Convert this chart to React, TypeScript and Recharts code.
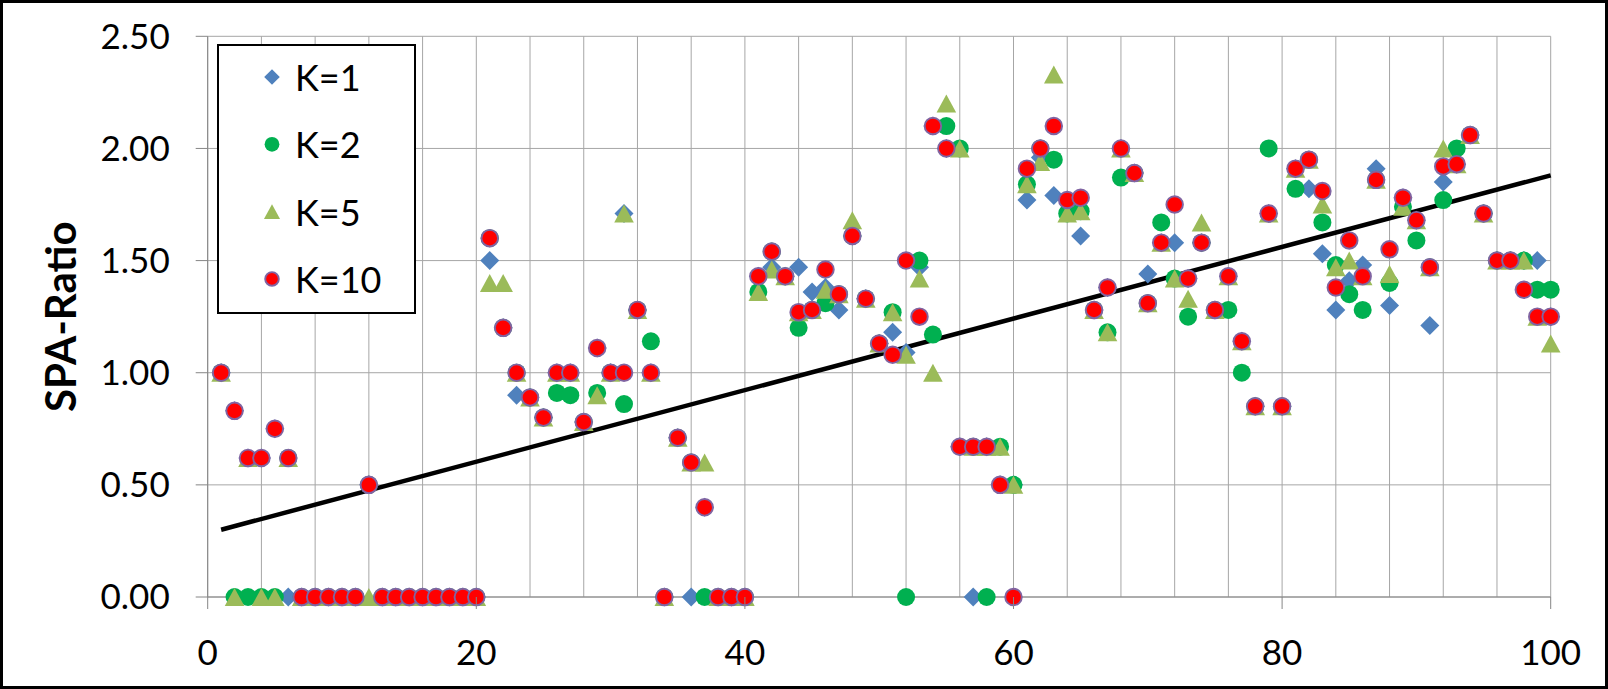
import React from "react";
import {
  ScatterChart,
  Scatter,
  XAxis,
  YAxis,
  CartesianGrid,
  ReferenceLine,
  Legend,
} from "recharts";

const FONT = "Lato, 'Open Sans', sans-serif";

// x = run index 1..100
const xValues = Array.from({ length: 100 }, (_, i) => i + 1);

// SPA-Ratio, one value per run
const k1 = [
  1.0, 0.83, 0.62, 0.62, 0.75, 0, 0, 0, 0, 0,
  0, 0.5, 0, 0, 0, 0, 0, 0, 0, 0,
  1.5, 1.2, 0.9, 0.89, 0.8, 1.0, 1.0, 0.78, 1.11, 1.0,
  1.71, 1.28, 1.0, 0, 0.71, 0, 0.4, 0, 0, 0,
  1.43, 1.47, 1.43, 1.47, 1.36, 1.38, 1.28, 1.61, 1.33, 1.13,
  1.18, 1.09, 1.47, 2.1, 2.0, 0.67, 0, 0.67, 0.5, 0.5,
  1.77, 1.96, 1.79, 1.77, 1.61, 1.28, 1.38, 2.0, 1.89, 1.44,
  1.58, 1.58, 1.42, 1.58, 1.28, 1.43, 1.14, 0.85, 1.71, 0.85,
  1.91, 1.82, 1.53, 1.28, 1.41, 1.48, 1.91, 1.3, 1.78, 1.68,
  1.21, 1.85, 1.93, 2.06, 1.71, 1.5, 1.5, 1.5, 1.5, 1.25,
];
const k2 = [
  1.0, 0, 0, 0, 0, 0.62, 0, 0, 0, 0,
  0, 0.5, 0, 0, 0, 0, 0, 0, 0, 0,
  1.6, 1.2, 1.0, 0.89, 0.8, 0.91, 0.9, 0.78, 0.91, 1.0,
  0.86, 1.28, 1.14, 0, 0.71, 0.6, 0, 0, 0, 0,
  1.36, 1.54, 1.43, 1.2, 1.28, 1.31, 1.35, 1.61, 1.33, 1.13,
  1.27, 0, 1.5, 1.17, 2.1, 2.0, 0.67, 0, 0.67, 0.5,
  1.84, 2.0, 1.95, 1.71, 1.72, 1.28, 1.18, 1.87, 1.89, 1.31,
  1.67, 1.42, 1.25, 1.58, 1.28, 1.28, 1.0, 0.85, 2.0, 0.85,
  1.82, 1.95, 1.67, 1.48, 1.35, 1.28, 1.86, 1.4, 1.74, 1.59,
  1.47, 1.77, 2.0, 2.06, 1.71, 1.5, 1.5, 1.5, 1.37, 1.37,
];
const k5 = [
  1.0, 0, 0.62, 0, 0, 0.62, 0, 0, 0, 0,
  0, 0, 0, 0, 0, 0, 0, 0, 0, 0,
  1.4, 1.4, 1.0, 0.89, 0.8, 1.0, 1.0, 0.78, 0.9, 1.0,
  1.71, 1.28, 1.0, 0, 0.71, 0.6, 0.6, 0, 0, 0,
  1.36, 1.46, 1.43, 1.27, 1.28, 1.37, 1.35, 1.68, 1.33, 1.13,
  1.27, 1.08, 1.42, 1.0, 2.2, 2.0, 0.67, 0.67, 0.67, 0.5,
  1.84, 1.94, 2.33, 1.71, 1.72, 1.28, 1.18, 2.0, 1.89, 1.31,
  1.58, 1.42, 1.33, 1.67, 1.28, 1.43, 1.14, 0.85, 1.71, 0.85,
  1.91, 1.95, 1.75, 1.47, 1.5, 1.43, 1.86, 1.44, 1.74, 1.68,
  1.47, 2.0, 1.93, 2.06, 1.71, 1.5, 1.5, 1.5, 1.25, 1.13,
];
const k10 = [
  1.0, 0.83, 0.62, 0.62, 0.75, 0.62, 0, 0, 0, 0,
  0, 0.5, 0, 0, 0, 0, 0, 0, 0, 0,
  1.6, 1.2, 1.0, 0.89, 0.8, 1.0, 1.0, 0.78, 1.11, 1.0,
  1.0, 1.28, 1.0, 0, 0.71, 0.6, 0.4, 0, 0, 0,
  1.43, 1.54, 1.43, 1.27, 1.28, 1.46, 1.35, 1.61, 1.33, 1.13,
  1.08, 1.5, 1.25, 2.1, 2.0, 0.67, 0.67, 0.67, 0.5, 0,
  1.91, 2.0, 2.1, 1.77, 1.78, 1.28, 1.38, 2.0, 1.89, 1.31,
  1.58, 1.75, 1.42, 1.58, 1.28, 1.43, 1.14, 0.85, 1.71, 0.85,
  1.91, 1.95, 1.81, 1.38, 1.59, 1.43, 1.86, 1.55, 1.78, 1.68,
  1.47, 1.92, 1.93, 2.06, 1.71, 1.5, 1.5, 1.37, 1.25, 1.25,
];

// linear trend line end points
const trendX = [1, 100];
const trendY = [0.3, 1.88];

const seriesNames = ["K=1", "K=2", "K=5", "K=10"];

const xGridTicks = [
  0, 4, 8, 12, 16, 20, 24, 28, 32, 36, 40, 44, 48, 52, 56, 60, 64, 68, 72,
  76, 80, 84, 88, 92, 96, 100,
];
const xLabelTicks = [0, 20, 40, 60, 80, 100];
const yTicks = [0, 0.5, 1, 1.5, 2, 2.5];

const toPoints = (ys: number[]) => xValues.map((x, i) => ({ x, y: ys[i] }));

const drawDiamond = (cx: number, cy: number, s = 1) => (
  <polygon
    points={`${cx},${cy - 9.5 * s} ${cx + 9.5 * s},${cy} ${cx},${cy + 9.5 * s} ${cx - 9.5 * s},${cy}`}
    fill="#4F81BD"
  />
);
const drawGreen = (cx: number, cy: number, s = 1) => (
  <circle cx={cx} cy={cy} r={9 * s} fill="#00B050" />
);
const drawTriangle = (cx: number, cy: number, s = 1) => (
  <polygon
    points={`${cx},${cy - 9 * s} ${cx + 9.8 * s},${cy + 9 * s} ${cx - 9.8 * s},${cy + 9 * s}`}
    fill="#9BBB59"
  />
);
const drawRed = (cx: number, cy: number, s = 1) => (
  <circle cx={cx} cy={cy} r={8.3 * s} fill="#FF0000" stroke="#8064A2" strokeWidth={1.9} />
);

const markers: Record<string, (cx: number, cy: number, s?: number) => React.ReactElement> = {
  "K=1": drawDiamond,
  "K=2": drawGreen,
  "K=5": drawTriangle,
  "K=10": drawRed,
};

const XTick = (props: any) => {
  const { x, y, payload } = props;
  if (!xLabelTicks.includes(payload.value)) return null;
  return (
    <g>
      <line x1={x} x2={x} y1={y - 12} y2={y} stroke="#868686" />
      <text
        x={x}
        y={y + 42}
        textAnchor="middle"
        dominantBaseline="central"
        fontSize={35}
        fontFamily={FONT}
        fill="#000"
      >
        {payload.value}
      </text>
    </g>
  );
};

const YTitle = (props: any) => {
  const { viewBox } = props;
  const cy = viewBox.y + viewBox.height / 2;
  return (
    <text
      x={76}
      y={cy}
      transform={`rotate(-90, 76, ${cy})`}
      textAnchor="middle"
      fontSize={42}
      fontWeight="bold"
      fontFamily={FONT}
      fill="#000"
    >
      SPA-Ratio
    </text>
  );
};

const renderLegend = (props: any) => {
  const payload = (props.payload || [])
    .filter((p: any) => markers[p.value])
    .sort((a: any, b: any) => seriesNames.indexOf(a.value) - seriesNames.indexOf(b.value));
  return (
    <div
      style={{
        width: 199,
        height: 270,
        boxSizing: "border-box",
        border: "2px solid #000",
        background: "#fff",
      }}
    >
      <svg width={195} height={266}>
        {payload.map((entry: any, i: number) => {
          const cy = 31 + i * 67.3;
          return (
            <g key={entry.value}>
              {markers[entry.value](53, cy, 0.82)}
              <text
                x={76}
                y={cy}
                dominantBaseline="central"
                fontSize={36}
                fontFamily={FONT}
                fill="#000"
              >
                {entry.value}
              </text>
            </g>
          );
        })}
      </svg>
    </div>
  );
};

export default function App() {
  return (
    <div style={{ position: "absolute", left: 0, top: 0, width: 1608, height: 689, background: "#fff" }}>
      <ScatterChart
        width={1608}
        height={689}
        margin={{ top: 36.3, right: 57.3, bottom: 0, left: 0 }}
      >
        <CartesianGrid stroke="#a6a6a6" />
        <XAxis
          type="number"
          dataKey="x"
          domain={[0, 100]}
          ticks={xGridTicks}
          interval={0}
          tick={<XTick />}
          tickLine={false}
          tickSize={12}
          tickMargin={0}
          axisLine={{ stroke: "#868686" }}
          height={92}
        />
        <YAxis
          type="number"
          dataKey="y"
          domain={[0, 2.5]}
          ticks={yTicks}
          interval={0}
          tickFormatter={(v: number) => v.toFixed(2)}
          tick={{ fontSize: 35, fill: "#000", fontFamily: FONT }}
          tickSize={12}
          tickMargin={26}
          tickLine={{ stroke: "#868686" }}
          axisLine={{ stroke: "#868686" }}
          width={207.7}
          label={<YTitle />}
        />
        {[k1, k2, k5, k10].map((ys, i) => (
          <Scatter
            key={seriesNames[i]}
            name={seriesNames[i]}
            data={toPoints(ys)}
            shape={(p: any) => markers[seriesNames[i]](p.cx, p.cy)}
            isAnimationActive={false}
          />
        ))}
        <ReferenceLine
          segment={[
            { x: trendX[0], y: trendY[0] },
            { x: trendX[1], y: trendY[1] },
          ]}
          stroke="#000"
          strokeWidth={4.5}
        />
        <Legend
          layout="vertical"
          align="center"
          verticalAlign="middle"
          itemSorter={null as any}
          wrapperStyle={{ position: "absolute", left: 217, top: 44, width: 199, height: 270, margin: 0, padding: 0 }}
          content={renderLegend}
        />
      </ScatterChart>
      <div
        style={{
          position: "absolute",
          left: 0,
          top: 0,
          width: 1608,
          height: 689,
          boxSizing: "border-box",
          border: "3px solid #000",
          pointerEvents: "none",
        }}
      />
    </div>
  );
}
